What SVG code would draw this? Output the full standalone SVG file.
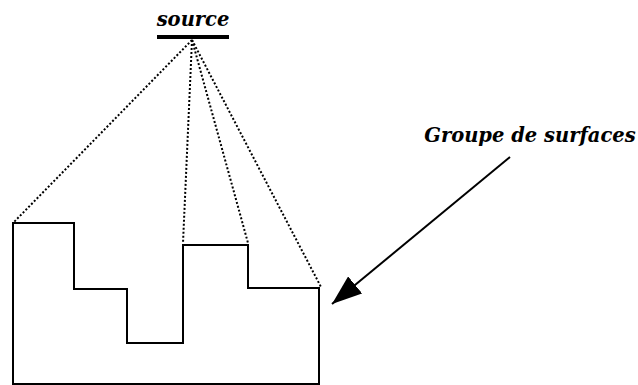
<svg xmlns="http://www.w3.org/2000/svg" width="638" height="385" viewBox="0 0 638 385">
<style>
.lbl{font-family:"DejaVu Serif",serif;font-weight:bold;font-style:italic;font-size:19.5px;fill:#000}
.dot{stroke:#000;stroke-width:2;stroke-dasharray:2 2;fill:none}
.solid{stroke:#000;stroke-width:2;fill:none}
</style>
<defs>
<marker id="ah" markerUnits="userSpaceOnUse" markerWidth="32" markerHeight="22" refX="30" refY="11" orient="auto">
<path d="M0,0 L30,11 L0,22 Z" fill="#000"/>
</marker>
</defs>
<rect width="638" height="385" fill="#fff"/>
<g id="source">
<line x1="157" y1="37" x2="229" y2="37" stroke="#000" stroke-width="4"/>
<text class="lbl" x="193" y="26" text-anchor="middle">source</text>
</g>
<g id="surfaces">
<path class="solid" d="M13,223 H74 V289 H127 V343 H183 V245 H248 V288 H319 V384 H13 Z"/>
</g>
<g id="label">
<text class="lbl" x="530" y="142" text-anchor="middle">Groupe de surfaces</text>
</g>
<g id="connectors">
<line class="dot" x1="192" y1="40" x2="14" y2="222"/>
<line class="dot" x1="192" y1="40" x2="183" y2="243"/>
<line class="dot" x1="192" y1="40" x2="248" y2="243"/>
<line class="dot" x1="192" y1="40" x2="321" y2="287"/>
<line class="solid" x1="510" y1="157" x2="332" y2="304" marker-end="url(#ah)"/>
</g>
</svg>
